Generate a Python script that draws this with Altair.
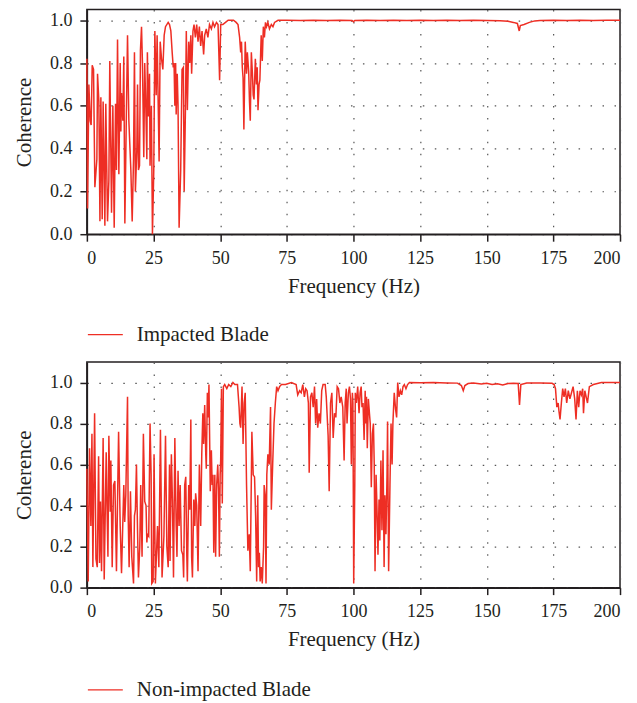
import altair as alt
import pandas as pd

RED = "#ee2e24"
INK = "#231f20"
FONT = "Liberation Serif"

# ---------------- Impacted blade ----------------
imp_freq = [0.0, 0.25, 0.75, 1.25, 1.6, 2.0, 2.5, 3.0, 3.75, 4.0, 4.5, 4.9, 5.25, 5.75, 6.1, 6.75, 7.1, 7.75,
            8.25, 8.6, 9.25, 9.75, 10.25, 10.75, 11.1, 11.5, 12.0, 12.5, 12.75, 13.0, 13.5, 13.85, 14.25, 14.75,
            15.25, 15.75, 16.5, 17.0, 17.5, 17.85, 18.2, 18.75, 19.0, 19.35, 19.75, 20.1, 20.5, 20.85, 21.35, 21.7,
            22.1, 22.5, 22.7, 23.1, 23.5, 23.7, 24.2, 24.6, 25.1, 25.5, 26.0, 26.35, 27.1, 27.5, 28.0, 28.5, 29.0,
            29.5, 30.5, 31.0, 31.5, 32.0, 32.4, 32.7, 33.0, 33.3, 33.5, 33.9, 34.2, 34.6, 35.2, 35.7, 36.2, 36.5,
            37.0, 37.3, 37.7, 38.2, 38.6, 39.0, 39.3, 39.8, 40.2, 40.7, 41.2, 41.7, 42.2, 42.7, 43.2, 43.8, 44.2,
            44.8, 45.4, 46.0, 46.7, 47.3, 47.9, 48.6, 49.2, 49.8, 50.2, 51.0, 52.0, 53.0, 54.0, 55.0, 56.0, 56.7,
            57.3, 57.7, 58.0, 58.3, 58.6, 58.9, 59.4, 59.9, 60.2, 60.7, 61.0, 61.3, 61.7, 62.1, 62.4, 62.7, 63.2,
            63.6, 63.9, 64.2, 64.6, 64.9, 65.2, 65.4, 65.8, 66.2, 66.6, 67.0, 67.4, 67.9, 68.5, 69.2, 69.8, 70.4,
            71.7, 75, 80, 85, 90, 95, 99.5, 100, 100.5, 105, 110, 115, 120, 125, 130, 135, 140, 145, 150, 155, 158,
            160, 161.5, 162.2, 162.6, 164, 166, 168, 170, 175, 180, 185, 190, 195, 200]
imp_coh = [0.82, 0.12, 0.70, 0.53, 0.51, 0.79, 0.77, 0.22, 0.35, 0.75, 0.62, 0.06, 0.64, 0.07, 0.62, 0.04, 0.61, 0.06,
           0.25, 0.81, 0.10, 0.60, 0.03, 0.61, 0.30, 0.91, 0.28, 0.80, 0.48, 0.66, 0.53, 0.83, 0.05, 0.50,
           0.93, 0.53, 0.30, 0.06, 0.35, 0.85, 0.20, 0.40, 0.70, 0.30, 0.32, 0.86, 0.97, 0.80, 0.36, 0.80,
           0.60, 0.35, 0.85, 0.55, 0.75, 0.32, 0.60, 0.00, 0.30, 0.95, 0.65, 0.93, 0.34, 0.90, 0.82, 0.77, 0.93,
           0.97, 0.99, 0.98, 0.95, 0.85, 0.78, 0.80, 0.60, 0.80, 0.56, 0.75, 0.60, 0.03, 0.30, 0.77, 0.78, 0.20,
           0.60, 0.95, 0.58, 0.90, 0.80, 0.93, 0.75, 0.95, 0.98, 0.92, 0.98, 0.90, 0.97, 0.88, 0.95, 0.84, 0.93,
           0.96, 0.92, 0.98, 0.96, 0.99, 0.97, 0.99, 0.98, 0.72, 0.98, 0.98, 0.99, 1.0, 1.0, 1.0, 0.99, 0.98,
           0.92, 0.85, 0.90, 0.78, 0.73, 0.49, 0.90, 0.75, 0.85, 0.76, 0.62, 0.53, 0.85, 0.75, 0.65, 0.63, 0.82,
           0.70, 0.78, 0.58, 0.70, 0.72, 0.85, 0.93, 0.81, 0.97, 0.92, 0.99, 0.97, 0.99, 0.96, 0.98, 0.97, 0.99,
           1.0, 1.0, 0.999, 1.0, 0.999, 1.0, 0.999, 0.993, 0.999, 1.0, 0.999, 1.0, 0.999, 1.0, 0.999, 1.0, 0.999, 1.0, 0.999, 0.998, 0.995,
           0.99, 0.985, 0.95, 0.975, 0.98, 0.99, 0.997, 0.999, 1.0, 0.999, 1.0, 0.999, 1.0, 1.0]

# ---------------- Non-impacted blade ----------------
non_freq = [0.0, 0.5, 1.0, 1.5, 1.9, 2.25, 2.9, 3.4, 3.9, 4.4, 4.75, 5.1, 5.5, 6.1, 6.5, 7.25, 7.6, 7.9, 8.25, 8.75,
            9.0, 9.5, 10.0, 10.5, 11.1, 11.9, 12.5, 13.0, 13.85, 14.2, 14.6, 15.25, 15.5, 15.85, 16.35, 16.85, 17.5,
            17.85, 18.2, 18.6, 19.0, 19.35, 19.85, 20.2, 20.7, 21.2, 21.7, 22.2, 22.5, 22.7, 23.2, 23.7, 24.1, 24.35,
            24.85, 25.2, 25.7, 26.5, 27.0, 27.6, 28.0, 28.2, 28.9, 29.5, 30.0, 30.5, 31.0, 31.2, 31.7, 32.1, 32.5,
            33.0, 33.5, 33.8, 34.2, 34.6, 35.0, 35.5, 36.0, 36.3, 36.7, 37.1, 37.5, 37.7, 38.2, 38.6, 39.0, 39.3,
            39.6, 40.1, 40.5, 40.8, 41.2, 41.7, 42.2, 42.7, 43.1, 43.5, 43.8, 44.2, 44.6, 44.8, 45.2, 45.5, 45.8,
            46.3, 46.7, 47.0, 47.3, 47.6, 48.0, 48.3, 48.7, 49.1, 49.4, 49.7, 50.0, 50.2, 50.5, 50.8, 51.2, 51.7,
            52.5, 53.2, 54.0, 54.8, 55.5, 56.5, 57.1, 57.4, 57.7, 58.2, 58.6, 59.0, 59.4, 59.9, 60.4, 60.9, 61.3,
            61.9, 62.4, 62.9, 63.3, 63.7, 64.1, 64.4, 64.7, 65.0, 65.4, 65.8, 66.3, 66.5, 66.9, 67.2, 67.5, 67.9,
            68.4, 68.9, 69.2, 69.7, 70.2, 70.7, 71.2, 71.7, 72.3, 73.0, 74.5, 76.7, 78.5, 79.1, 79.8, 80.4, 81.0,
            81.6, 82.1, 82.6, 83.1, 83.4, 83.9, 84.4, 84.9, 85.4, 85.8, 86.2, 86.6, 87.1, 87.6, 88.1, 88.6, 89.4,
            89.8, 90.1, 90.5, 90.9, 91.4, 91.9, 92.4, 92.9, 93.4, 93.9, 94.4, 94.9, 95.4, 96.0, 96.5, 96.9, 97.3,
            97.6, 98.1, 98.5, 98.9, 99.2, 99.6, 99.8, 100.1, 100.5, 100.7, 101.1, 101.6, 102.1, 102.5, 102.9,
            103.2, 103.6, 104.0, 104.4, 104.6, 104.9, 105.2, 105.6, 106.0, 106.3, 106.7, 107.1, 107.5, 107.8,
            108.1, 108.5, 108.8, 109.2, 109.6, 109.9, 110.3, 110.7, 111.1, 111.5, 111.8, 112.2, 112.6, 112.8,
            113.2, 113.7, 114.1, 114.5, 114.8, 115.3, 115.8, 116.2, 116.6, 117.1, 117.6, 118.1, 118.6, 119.1,
            119.7, 120.3, 121.0, 125, 130, 135, 139, 140.5, 141.2, 141.8, 143, 145, 148, 150, 152, 154, 156, 158,
            160, 161.8, 162.3, 162.8, 165, 170, 174.5, 175.3, 175.8, 176.3, 176.8, 177.1, 177.5, 178.0, 178.5,
            179.0, 179.5, 180.0, 180.6, 181.2, 181.8, 182.4, 183.0, 183.5, 184.0, 184.5, 185.0, 185.5, 186.0,
            186.3, 186.8, 187.3, 187.8, 188.5, 190, 193, 200]
non_coh = [0.58, 0.03, 0.68, 0.30, 0.75, 0.10, 0.85, 0.14, 0.10, 0.64, 0.12, 0.42, 0.08, 0.73, 0.04, 0.66, 0.36, 0.15, 0.74, 0.37,
           0.62, 0.10, 0.50, 0.52, 0.08, 0.76, 0.30, 0.07, 0.50, 0.32, 0.45, 0.93, 0.35, 0.10, 0.47, 0.15, 0.02,
           0.35, 0.38, 0.60, 0.28, 0.05, 0.20, 0.50, 0.15, 0.75, 0.42, 0.40, 0.22, 0.26, 0.25, 0.80, 0.55, 0.02,
           0.03, 0.65, 0.02, 0.30, 0.10, 0.77, 0.30, 0.05, 0.25, 0.74, 0.20, 0.10, 0.60, 0.13, 0.65, 0.42, 0.05,
           0.73, 0.30, 0.15, 0.57, 0.30, 0.50, 0.18, 0.16, 0.05, 0.50, 0.54, 0.15, 0.03, 0.50, 0.38, 0.82, 0.15,
           0.05, 0.43, 0.30, 0.46, 0.40, 0.08, 0.60, 0.30, 0.65, 0.85, 0.70, 0.89, 0.65, 0.58, 0.95, 0.83, 0.99,
           0.47, 0.67, 0.50, 0.55, 0.17, 0.55, 0.15, 0.50, 0.60, 0.48, 0.15, 0.55, 0.62, 0.97, 0.41, 0.98, 0.99,
           0.97, 0.99, 0.98, 1.0, 0.99, 0.99, 0.88, 0.80, 0.78, 0.98, 0.70, 0.90, 0.95, 0.50, 0.18, 0.26, 0.08,
           0.76, 0.55, 0.54, 0.35, 0.03, 0.45, 0.10, 0.17, 0.03, 0.10, 0.02, 0.20, 0.50, 0.45, 0.02, 0.55, 0.65,
           0.60, 0.88, 0.38, 0.60, 0.80, 0.90, 0.98, 0.96, 0.98, 0.99, 0.99, 1.0, 0.99, 0.94, 0.96, 0.95, 0.99,
           0.93, 0.97, 0.96, 0.90, 0.56, 0.93, 0.95, 0.88, 0.98, 0.80, 0.92, 0.78, 0.85, 0.80, 0.96, 0.99, 0.99,
           0.93, 0.85, 0.74, 0.47, 0.90, 0.95, 0.73, 0.85, 0.83, 0.98, 0.97, 0.90, 0.93, 0.88, 0.62, 0.90, 0.97,
           0.80, 0.95, 0.98, 0.92, 0.60, 0.95, 0.90, 0.02, 0.50, 0.95, 0.90, 0.98, 0.85, 0.95, 0.98,
           0.88, 0.90, 0.72, 0.96, 0.80, 0.93, 0.68, 0.92, 0.85, 0.80, 0.49, 0.75, 0.80, 0.60,
           0.08, 0.55, 0.40, 0.16, 0.43, 0.23, 0.62, 0.28, 0.67, 0.10, 0.45, 0.26, 0.55, 0.81,
           0.08, 0.50, 0.80, 0.60, 0.80, 0.95, 0.87, 0.83, 1.0, 0.93, 0.96, 0.94, 0.98, 0.99,
           0.97, 0.99, 1.0, 0.999, 1.0, 0.998, 0.997, 0.985, 0.96, 0.985, 0.995, 0.998, 0.993, 0.996, 0.99, 0.994, 0.988, 0.995,
           0.996, 0.995, 0.89, 0.99, 0.998, 0.998, 0.996, 0.99, 0.97, 0.88, 0.90, 0.86, 0.82, 0.90, 0.97,
           0.93, 0.97, 0.90, 0.96, 0.92, 0.95, 0.98, 0.92, 0.82, 0.96, 0.88, 0.96, 0.94, 0.97,
           0.85, 0.96, 0.93, 0.90, 0.98, 0.99, 1.0, 1.0]

x_ticks = [0, 25, 50, 75, 100, 125, 150, 175, 200]
y_ticks = [0.0, 0.2, 0.4, 0.6, 0.8, 1.0]


def panel(freq, coh, name, ymax, h, legend_y):
    df = pd.DataFrame({"Frequency": freq, "Coherence": coh, "series": name})
    return alt.Chart(df).mark_line(strokeWidth=1.5).encode(
        x=alt.X("Frequency:Q",
                scale=alt.Scale(domain=[0, 200], nice=False, zero=False),
                axis=alt.Axis(values=x_ticks, title="Frequency (Hz)", format="d")),
        y=alt.Y("Coherence:Q",
                scale=alt.Scale(domain=[0, ymax], nice=False),
                axis=alt.Axis(values=y_ticks, format=".1f", title="Coherence")),
        color=alt.Color("series:N",
                        scale=alt.Scale(domain=[name], range=[RED]),
                        legend=alt.Legend(title=None, orient="none", legendX=0, legendY=legend_y,
                                          symbolType="stroke", symbolSize=1225, symbolStrokeWidth=1.3,
                                          labelFontSize=21, labelFont=FONT, labelColor=INK,
                                          labelOffset=13, labelLimit=0, padding=0)),
    ).properties(width=534, height=h)


top = panel(imp_freq, imp_coh, "Impacted Blade", 1.05, 225, 307)
bottom = panel(non_freq, non_coh, "Non-impacted Blade", 1.10, 226, 310)

chart = alt.vconcat(top, bottom, spacing=15).resolve_scale(color="independent").properties(
    padding={"left": 4, "top": 0, "right": 5, "bottom": 5}
).configure_view(
    stroke=INK, strokeWidth=1.5
).configure_axis(
    labelFont=FONT, titleFont=FONT, labelFontSize=18, titleFontSize=21,
    labelColor=INK, titleColor=INK, titleFontWeight="normal",
    domainColor=INK, domainWidth=1.5, tickColor=INK, tickWidth=1.5, tickSize=7,
    labelPadding=8, gridColor="#555555", gridDash=[1.5, 10.5], gridWidth=1.2,
).configure_axisY(titlePadding=15).configure_axisX(titlePadding=8)

chart.save("out.html", embed_options={"renderer": "svg", "actions": False})
